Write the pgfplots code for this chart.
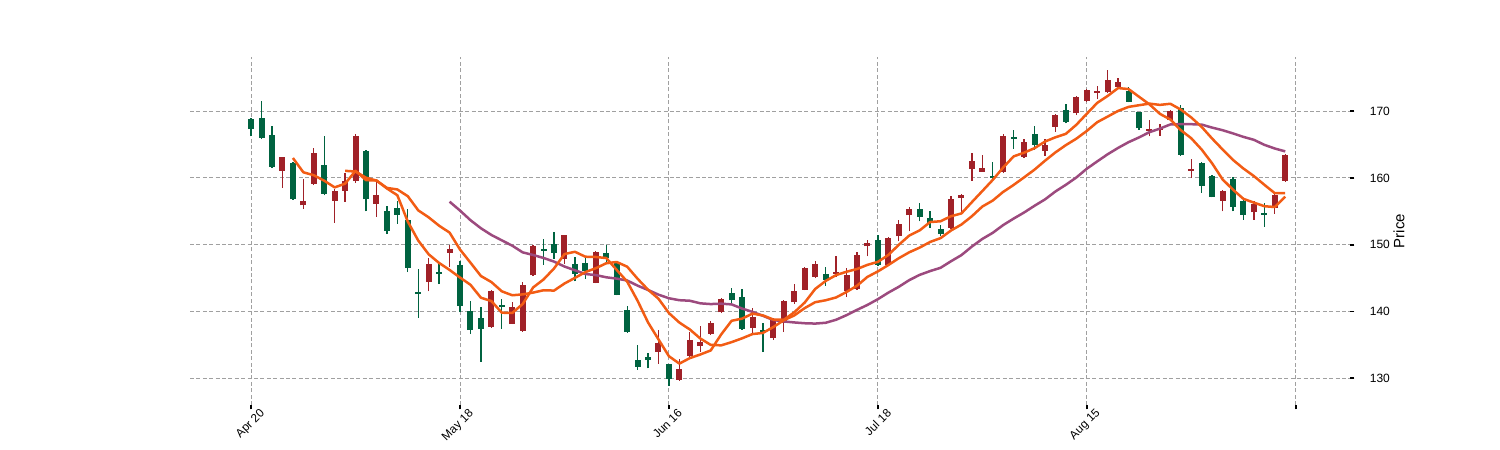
\documentclass[border=0pt]{standalone}
\usepackage{fontspec}
\setmainfont{Liberation Sans}
\usepackage{pgfplots}
\pgfplotsset{compat=1.18}
\usepackage{pgfplotstable}
\definecolor{upred}{RGB}{160,33,40}
\definecolor{dngreen}{RGB}{0,99,64}
\definecolor{maorange}{RGB}{242,92,20}
\definecolor{mapurple}{RGB}{156,74,126}
\definecolor{gridgray}{RGB}{160,160,160}

\pgfplotstableread{
i O H L C
3 161.1 163.2 158.5 163.1
5 155.9 159.9 155.4 156.6
6 159.1 164.5 158.9 163.8
8 156.6 158.3 153.3 158.1
9 158.1 160.7 156.4 159.6
10 159.5 166.5 159.2 166.2
12 156.1 159.4 154.2 157.4
17 144.4 148.0 143.0 147.1
19 148.8 150.0 146.7 149.3
23 137.7 143.2 137.6 143.1
25 138.2 141.4 138.1 140.6
26 137.1 144.4 137.0 143.9
27 145.4 149.9 145.3 149.8
30 147.9 151.5 147.1 151.4
33 144.3 149.1 144.2 148.9
39 134.0 137.2 132.2 135.3
41 129.8 132.9 129.6 131.4
42 133.3 136.9 133.1 135.8
43 134.8 137.8 134.0 135.4
44 136.65 138.6 136.5 138.35
45 139.85 142.0 139.75 141.85
48 137.5 140.5 136.85 139.15
50 136.0 139.0 135.75 138.75
51 138.3 141.65 136.9 141.5
52 141.35 144.1 141.15 143.0
53 143.25 146.6 143.15 146.45
54 145.15 147.6 145.0 147.15
56 145.6 148.35 145.15 145.9
57 143.0 146.45 142.15 145.5
58 143.35 148.85 143.25 148.5
59 149.75 150.75 148.25 150.25
61 147.0 151.1 146.85 151.0
62 151.25 153.65 150.5 153.15
63 154.4 155.6 152.0 155.4
67 152.5 157.25 152.35 156.9
68 157.0 157.6 154.85 157.5
69 161.3 163.7 159.6 162.6
70 160.95 163.5 160.9 161.55
72 160.85 166.5 160.7 166.2
74 163.2 165.75 162.95 165.4
76 164.0 165.75 163.3 164.9
77 167.65 169.5 166.9 169.4
79 169.65 172.25 169.4 172.15
80 171.5 173.25 171.4 173.15
81 172.75 173.7 171.75 173.05
82 172.8 176.1 172.65 174.6
83 173.6 175.0 173.4 174.3
86 167.05 168.65 166.2 167.35
87 167.2 168.0 166.3 167.5
88 168.65 170.15 168.5 170.05
90 161.05 162.9 159.95 161.35
93 156.55 158.2 155.0 158.05
96 154.85 156.55 153.7 156.05
98 155.45 157.55 154.6 157.45
99 159.55 163.55 159.45 163.45
}\updata

\pgfplotstableread{
i O H L C
0 168.8 169.0 166.2 167.3
1 169.0 171.5 165.8 166.0
2 166.4 167.8 161.5 161.7
4 162.3 162.4 156.7 156.8
7 162.0 166.2 157.4 157.6
11 164.0 164.2 155.0 156.8
13 155.0 155.8 151.6 152.1
14 155.5 156.6 153.1 154.5
15 153.7 155.4 145.9 146.5
16 142.9 146.3 139.1 142.6
18 145.9 147.2 144.1 145.6
20 146.9 147.5 139.9 140.8
21 140.0 141.6 136.6 137.2
22 139.0 140.6 132.5 137.4
24 140.9 141.9 137.4 140.6
28 149.4 150.9 147.0 149.1
29 150.1 151.9 147.9 148.8
31 147.1 148.1 144.5 145.6
32 147.2 148.2 144.9 146.1
34 148.7 149.9 147.2 148.0
35 147.2 147.5 142.4 142.5
36 140.2 140.8 136.8 136.9
37 132.8 135.0 131.3 131.7
38 133.2 133.8 131.5 132.7
40 132.1 132.2 128.9 129.9
46 142.75 143.5 141.25 141.65
47 142.15 143.35 137.25 137.4
49 137.3 138.25 133.9 137.0
55 145.65 146.6 143.85 144.75
60 150.75 151.5 146.75 147.0
64 155.35 156.25 153.5 154.15
65 154.0 155.0 152.5 153.25
66 152.35 153.0 151.25 151.6
71 160.25 162.45 159.85 159.95
73 166.1 167.2 164.4 165.8
75 166.5 167.8 164.2 164.9
78 170.15 171.0 168.15 168.4
84 173.0 173.6 171.3 171.4
85 169.8 169.9 167.2 167.4
89 170.5 170.9 163.35 163.45
91 162.2 162.45 157.8 158.85
92 160.3 160.45 157.1 157.2
94 159.85 160.2 155.0 155.7
95 156.55 156.7 153.7 154.5
97 154.8 156.2 152.7 154.5
}\dndata

\begin{document}
\begin{tikzpicture}
\useasboundingbox (0,0) rectangle (750pt,225pt);
\begin{axis}[
  at={(95pt,22.5pt)}, anchor=south west, scale only axis,
  width=580pt, height=174pt,
  xmin=-5.85, xmax=105.2, ymin=126.0, ymax=178.1,
  axis line style={draw=none},
  xtick={0,20,40,60,80,100},
  xticklabels={Apr 20,May 18,Jun 16,Jul 18,Aug 15,{}},
  ytick={130,140,150,160,170},
  xtick pos=left, ytick pos=right, yticklabel pos=right,
  tick align=outside, major tick length=2.2pt,
  tick style={black, line width=0.9pt},
  grid=major,
  major grid style={gridgray, line width=0.45pt, dash pattern=on 2pt off 1.2pt},
  xticklabel style={xshift=4pt, yshift=1pt, rotate=45, anchor=north east, inner sep=0pt, font=\fontsize{5.9}{6}\selectfont},
  yticklabel style={font=\fontsize{6}{7}\selectfont, xshift=4.2pt},
  /pgf/number format/assume math mode=true,
  scaled y ticks=false,
  ylabel={Price},
  every axis y label/.style={at={(rel axis cs:1,0.5)}, xshift=24.5pt, rotate=90, anchor=center, font=\fontsize{7.5}{8}\selectfont},
]
% wicks
\addplot[draw=none, no markers, forget plot,
  error bars/.cd, y dir=plus, y explicit, error mark=none,
  error bar style={draw=upred, line width=0.65pt}]
  table[x=i, y=L, y error plus expr={\thisrow{H}-\thisrow{L}}] {\updata};
\addplot[draw=none, no markers, forget plot,
  error bars/.cd, y dir=plus, y explicit, error mark=none,
  error bar style={draw=dngreen, line width=0.65pt}]
  table[x=i, y=L, y error plus expr={\thisrow{H}-\thisrow{L}}] {\dndata};
% bodies
\addplot[draw=none, no markers, forget plot,
  error bars/.cd, y dir=plus, y explicit, error mark=none,
  error bar style={draw=upred, line width=3pt}]
  table[x=i, y=O, y error plus expr={\thisrow{C}-\thisrow{O}}] {\updata};
\addplot[draw=none, no markers, forget plot,
  error bars/.cd, y dir=plus, y explicit, error mark=none,
  error bar style={draw=dngreen, line width=3pt}]
  table[x=i, y=C, y error plus expr={\thisrow{O}-\thisrow{C}}] {\dndata};
% MA20
\addplot[mapurple, line width=1.25pt, mark=none, line join=round] coordinates {
(19,156.44)(20,155.11)(21,153.67)(22,152.46)(23,151.46)(24,150.65)(25,149.85)(26,148.85)(27,148.46)(28,148.01)(29,147.47)(30,146.73)(31,146.17)(32,145.61)(33,145.45)(34,145.12)(35,144.92)(36,144.64)(37,143.87)(38,143.22)(39,142.52)(40,141.98)(41,141.69)(42,141.61)(43,141.22)(44,141.11)(45,141.17)(46,141.06)(47,140.44)(48,139.94)(49,139.35)(50,138.72)(51,138.51)(52,138.36)(53,138.24)(54,138.19)(55,138.31)(56,138.76)(57,139.45)(58,140.24)(59,140.98)(60,141.84)(61,142.82)(62,143.69)(63,144.69)(64,145.48)(65,146.05)(66,146.54)(67,147.52)(68,148.44)(69,149.72)(70,150.86)(71,151.78)(72,152.94)(73,153.91)(74,154.82)(75,155.83)(76,156.78)(77,157.97)(78,158.97)(79,160.06)(80,161.37)(81,162.47)(82,163.54)(83,164.49)(84,165.35)(85,166.06)(86,166.85)(87,167.38)(88,168.00)(89,168.05)(90,168.04)(91,167.98)(92,167.53)(93,167.14)(94,166.66)(95,166.14)(96,165.70)(97,164.95)(98,164.40)(99,163.97)};
% MA10
\addplot[maorange, line width=1.25pt, mark=none, line join=round] coordinates {
(9,161.06)(10,160.95)(11,160.03)(12,159.60)(13,158.50)(14,158.27)(15,157.26)(16,155.14)(17,154.09)(18,152.84)(19,151.81)(20,149.27)(21,147.31)(22,145.31)(23,144.41)(24,143.02)(25,142.43)(26,142.56)(27,142.83)(28,143.18)(29,143.13)(30,144.19)(31,145.03)(32,145.90)(33,146.48)(34,147.22)(35,147.41)(36,146.71)(37,144.90)(38,143.26)(39,141.91)(40,139.76)(41,138.34)(42,137.31)(43,135.96)(44,135.00)(45,134.93)(46,135.41)(47,135.98)(48,136.62)(49,136.79)(50,137.68)(51,138.69)(52,139.41)(53,140.51)(54,141.39)(55,141.68)(56,142.10)(57,142.92)(58,143.85)(59,145.18)(60,146.00)(61,146.95)(62,147.97)(63,148.86)(64,149.56)(65,150.41)(66,150.98)(67,152.12)(68,153.02)(69,154.26)(70,155.71)(71,156.61)(72,157.91)(73,158.95)(74,160.08)(75,161.24)(76,162.57)(77,163.82)(78,164.91)(79,165.87)(80,167.03)(81,168.34)(82,169.18)(83,170.03)(84,170.63)(85,170.88)(86,171.12)(87,170.93)(88,171.10)(89,170.23)(90,169.05)(91,167.63)(92,165.89)(93,164.26)(94,162.69)(95,161.40)(96,160.27)(97,158.97)(98,157.71)(99,157.71)};
% MA5
\addplot[maorange, line width=1.25pt, mark=none, line join=round] coordinates {
(4,162.98)(5,160.84)(6,160.40)(7,159.58)(8,158.58)(9,159.14)(10,161.06)(11,159.66)(12,159.62)(13,158.42)(14,157.40)(15,153.46)(16,150.62)(17,148.56)(18,147.26)(19,146.22)(20,145.08)(21,144.00)(22,142.06)(23,141.56)(24,139.82)(25,139.78)(26,141.12)(27,143.60)(28,144.80)(29,146.44)(30,148.60)(31,148.94)(32,148.20)(33,148.16)(34,148.00)(35,146.22)(36,144.48)(37,141.60)(38,138.36)(39,135.82)(40,133.30)(41,132.20)(42,133.02)(43,133.56)(44,134.17)(45,136.56)(46,138.61)(47,138.93)(48,139.68)(49,139.41)(50,138.79)(51,138.76)(52,139.88)(53,141.34)(54,143.37)(55,144.57)(56,145.45)(57,145.95)(58,146.36)(59,146.98)(60,147.43)(61,148.45)(62,149.98)(63,151.36)(64,152.14)(65,153.39)(66,153.51)(67,154.26)(68,154.68)(69,156.37)(70,158.03)(71,159.70)(72,161.56)(73,163.22)(74,163.78)(75,164.45)(76,165.44)(77,166.08)(78,166.60)(79,167.95)(80,169.60)(81,171.23)(82,172.27)(83,173.45)(84,173.30)(85,172.15)(86,171.01)(87,169.59)(88,168.74)(89,167.15)(90,165.94)(91,164.24)(92,162.18)(93,159.78)(94,158.23)(95,156.86)(96,156.30)(97,155.76)(98,155.64)(99,157.19)};
\end{axis}
\end{tikzpicture}
\end{document}
